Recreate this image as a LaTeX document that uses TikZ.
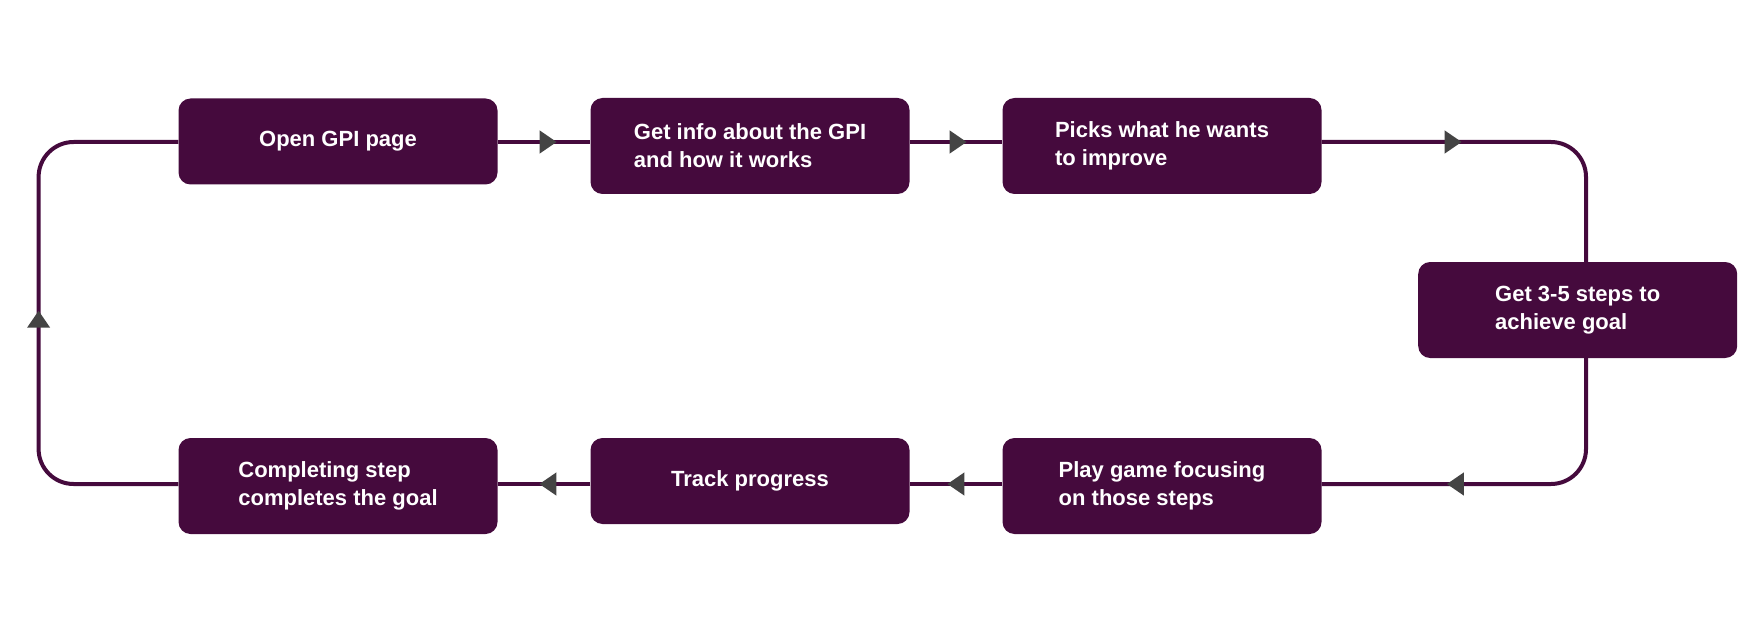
\documentclass[tikz,border=0pt]{standalone}
\usepackage{fontspec}
\setmainfont{Liberation Sans}
\usetikzlibrary{arrows.meta,decorations.markings}
\definecolor{plum}{RGB}{69,10,61}
\definecolor{tipgray}{RGB}{68,68,68}
\begin{document}
\begin{tikzpicture}[x=1pt,y=-1pt,
  box/.style={fill=plum, rounded corners=12pt, text=white,
    font=\bfseries\fontsize{22}{28}\selectfont, align=left,
    minimum width=319pt, inner sep=0pt},
  onebox/.style={box, minimum height=86pt},
  twobox/.style={box, minimum height=96pt},
  conn/.style={draw=plum, line width=4pt},
  tipat/.style={postaction={decorate}, decoration={markings,
    mark=at position #1 with {\arrow{Triangle[length=17pt,width=22pt,color=tipgray]}}}},
]
\useasboundingbox (0,0) rectangle (1760,620);
\node[onebox] (open)  at (338,141.5)  {Open GPI page};
\node[twobox] (info)  at (750,146)    {Get info about the GPI\\and how it works};
\node[twobox] (picks) at (1162,146)   {Picks what he wants\\to improve};
\node[twobox] (steps) at (1577.7,310) {Get 3-5 steps to\\achieve goal};
\node[twobox] (play)  at (1162,486)   {Play game focusing\\on those steps};
\node[onebox] (track) at (750,481)    {Track progress};
\node[twobox] (done)  at (338,486)    {Completing step\\completes the goal};

\coordinate (tr) at (1586,142);
\coordinate (br) at (1586,484);
\coordinate (tl) at (38.6,142);
\coordinate (bl) at (38.6,484);

\draw[conn, tipat=59pt] (open.east |- tr) -- (info.west |- tr);
\draw[conn, tipat=57pt] (info.east |- tr) -- (picks.west |- tr);
\draw[conn, rounded corners=35pt, tipat=140pt] (picks.east |- tr) -- (tr) -- (steps.north -| tr);
\draw[conn, rounded corners=35pt, tipat=250pt] (steps.south -| br) -- (br) -- (play.east |- br);
\draw[conn, tipat=55pt] (play.west |- br) -- (track.east |- br);
\draw[conn, tipat=51pt] (track.west |- br) -- (done.east |- br);
\draw[conn, rounded corners=35pt, tipat=298pt] (done.west |- br) -- (bl) -- (tl) -- (open.west |- tl);
\end{tikzpicture}
\end{document}
